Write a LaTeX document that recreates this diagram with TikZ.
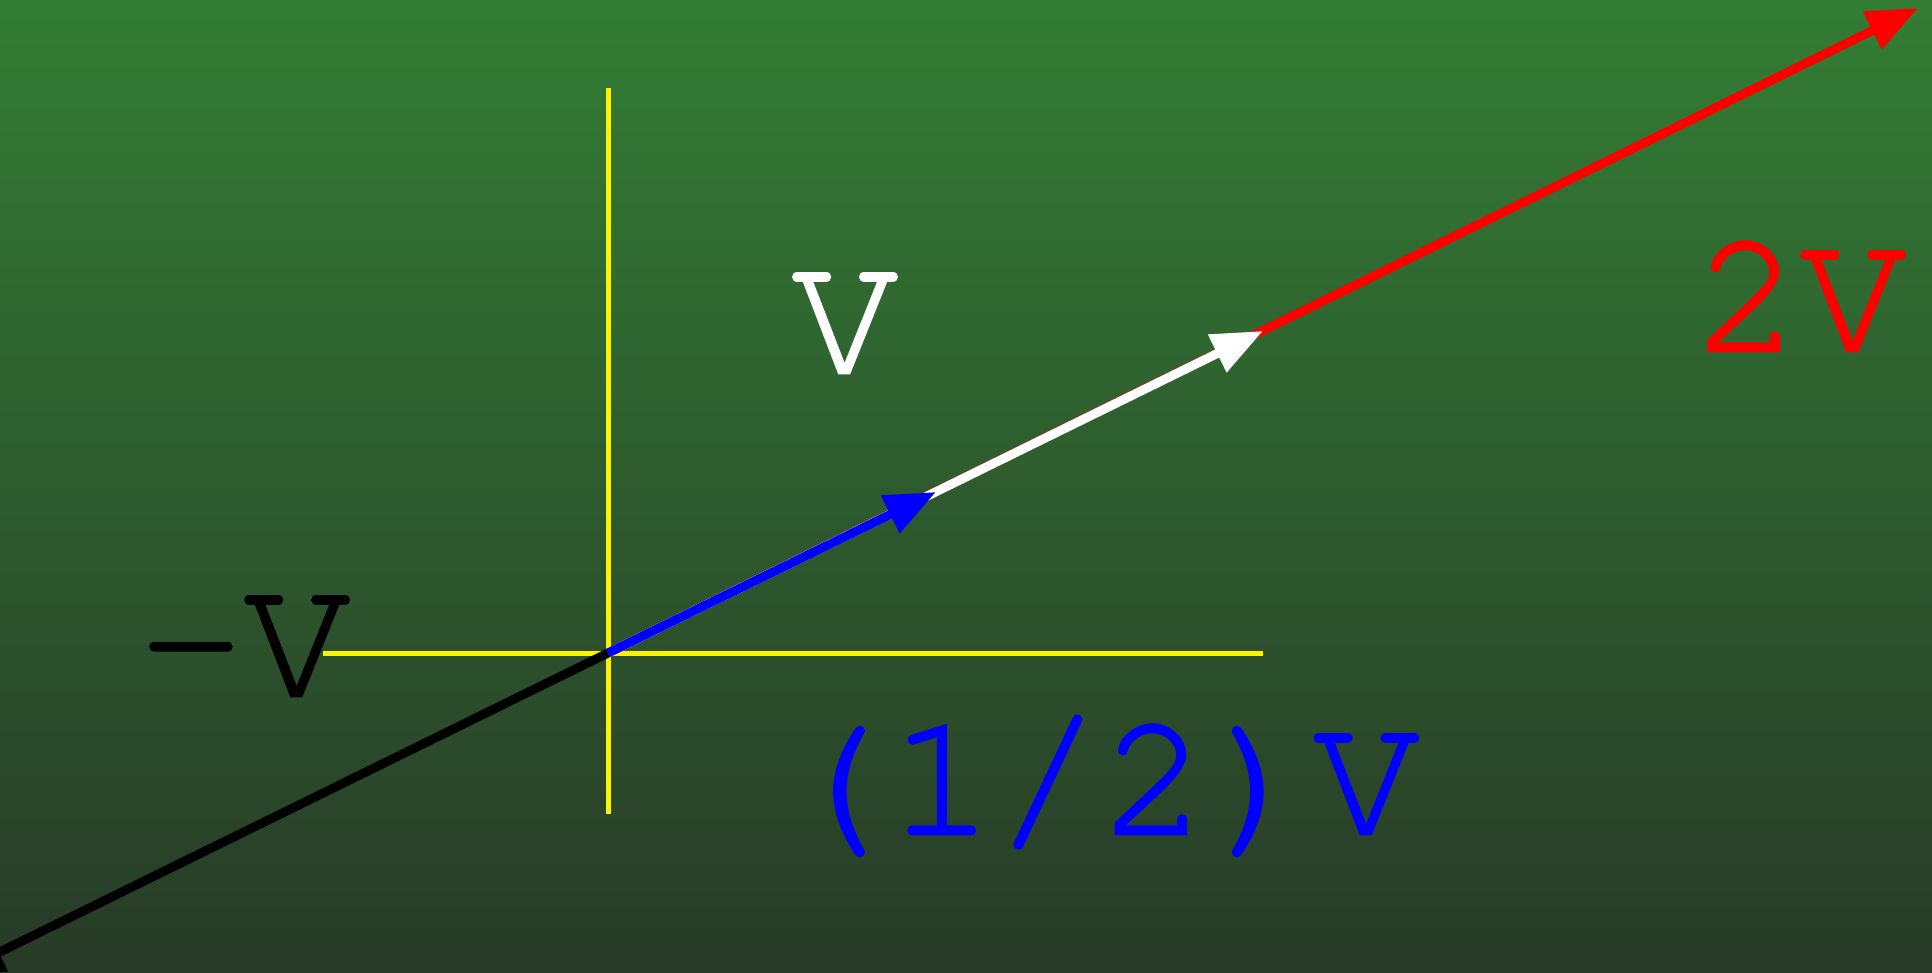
\documentclass[tikz,border=0pt]{standalone}
\usepackage{fontspec}
\newfontfamily\curfont[FakeBold=1.5]{texgyrecursor-regular.otf}
\usetikzlibrary{arrows.meta}
\definecolor{bgtop}{RGB}{51,125,52}
\definecolor{bgbot}{RGB}{40,58,40}
\begin{document}
\begin{tikzpicture}[x=1pt,y=-1pt,
  axis/.style={yellow, line width=5pt},
  vec/.style={line width=9pt, -{Triangle[length=51pt,width=40pt]}},
  lbl/.style={inner sep=0pt, anchor=base, font=\curfont\fontsize{177}{177}\selectfont}]
\useasboundingbox (0,0) rectangle (1932,972);
\shade[top color=bgtop, bottom color=bgbot] (0,0) rectangle (1932,972);
\clip (0,0) rectangle (1932,972);
% axes
\coordinate (xl) at (323,653);
\coordinate (xr) at (1263,653);
\coordinate (yt) at (608,88);
\coordinate (yb) at (608,814);
\draw[axis] (xl) -- (xr);
\draw[axis] (yt) -- (yb);
% vectors
\coordinate (O) at (608,653);
\coordinate (V2) at (1918,8);
\coordinate (V1) at (1263,331);
\coordinate (Vh) at (936,492);
\coordinate (Vm) at (-47,975);
\draw[vec, red] (O) -- (V2);
\draw[vec, white] (O) -- (V1);
\draw[vec, blue] (O) -- (Vh);
\draw[vec, black] (O) -- (Vm);
% labels
\node[lbl, white] (lv) at (845,373) {V};
\node[lbl, red] (l2v) at (1800,351) {2V};
\node[lbl, black] (lmv) at (244,696) {-V};
\node[lbl, blue] (lhv) at (1101,834) {(1/2)V};
\end{tikzpicture}
\end{document}
